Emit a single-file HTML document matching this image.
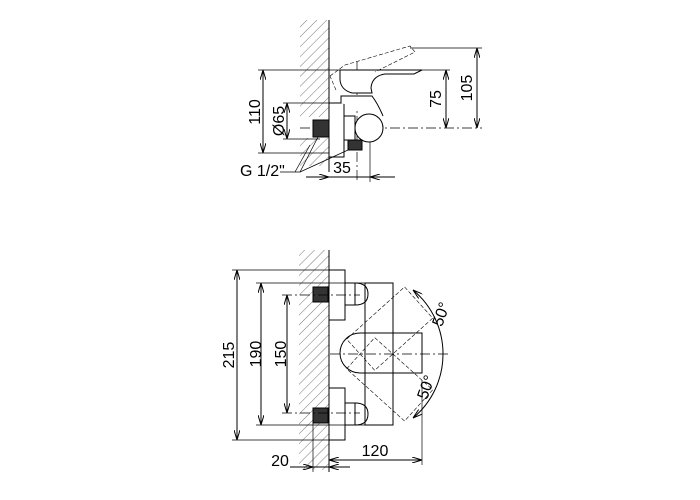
<!DOCTYPE html>
<html><head><meta charset="utf-8"><style>html,body{margin:0;padding:0;background:#fff}svg{display:block}</style></head>
<body>
<svg width="700" height="500" viewBox="0 0 700 500" xmlns="http://www.w3.org/2000/svg" font-family="Liberation Sans, sans-serif">
<defs>
<pattern id="h" width="7" height="7" patternUnits="userSpaceOnUse" patternTransform="rotate(45)">
<line x1="0" y1="0" x2="0" y2="7" stroke="#555" stroke-width="0.8"/></pattern>
<marker id="a" viewBox="0 0 10 6" refX="10" refY="3" markerWidth="10" markerHeight="6" orient="auto-start-reverse" markerUnits="userSpaceOnUse"><path d="M0,0 L10,3 L0,6" fill="none" stroke="#000" stroke-width="1"/></marker>
</defs>
<g stroke="#000" fill="none" stroke-width="1">
<rect x="300" y="20" width="29" height="97" fill="url(#h)" stroke="none"/>
<rect x="300" y="138" width="29" height="28" fill="url(#h)" stroke="none"/>
<line x1="329" y1="20" x2="329" y2="172"/>
<line x1="258" y1="70" x2="450" y2="70" stroke-width="0.7"/>
<line x1="258" y1="153" x2="330" y2="153" stroke-width="0.7"/>
<line x1="410" y1="48" x2="482" y2="48" stroke-width="0.7"/>
<line x1="283" y1="103" x2="330" y2="103" stroke-width="0.7"/>
<line x1="283" y1="139" x2="320" y2="139" stroke-width="0.7"/>
<line x1="300" y1="128" x2="482" y2="128" stroke-width="0.7" stroke-dasharray="10,3,2,3"/>
<line x1="357" y1="62" x2="357" y2="180" stroke-width="0.7" stroke-dasharray="10,3,2,3"/>
<line x1="263" y1="70" x2="263" y2="153" marker-start="url(#a)" marker-end="url(#a)"/>
<line x1="446" y1="70" x2="446" y2="128" marker-start="url(#a)" marker-end="url(#a)"/>
<line x1="477" y1="48" x2="477" y2="128" marker-start="url(#a)" marker-end="url(#a)"/>
<line x1="287" y1="103" x2="287" y2="139" marker-start="url(#a)" marker-end="url(#a)"/>
<line x1="306" y1="177" x2="329" y2="177" marker-end="url(#a)"/>
<line x1="370" y1="177" x2="395" y2="177" marker-start="url(#a)"/>
<line x1="329" y1="177" x2="370" y2="177"/>
<line x1="370" y1="140" x2="370" y2="182" stroke-width="0.7"/>
<rect x="329" y="103" width="15" height="54" fill="#fff"/>
<rect x="344" y="116" width="11" height="24" fill="#fff"/>
<path d="M341,103 L341,96 L372,96 Q378,104 383,116" fill="#fff"/>
<circle cx="369" cy="128" r="14" fill="#fff"/>
<path d="M340,70 L422,70 L414,74 L385,74 Q372,76 371,88 L372,93 L352,93 Q341,90 340,80 Z" fill="#fff"/>
<path d="M330,76 L345,65 L410,46 L415,52 L375,72" stroke-width="0.6" stroke-dasharray="4,2"/>
<path d="M336,90 L330,76" stroke-width="0.6" stroke-dasharray="4,2"/>
<rect x="313" y="120" width="16" height="17" fill="#333"/>
<rect x="348" y="140" width="14" height="10" fill="#333"/>
<path d="M280,172 L300,172 L318,137" stroke-width="0.7"/>
<path d="M300,172 L348,150" stroke-width="0.7"/>
<path d="M295,172 L310,145" stroke-width="0.7"/>

<rect x="299" y="250" width="30" height="220" fill="url(#h)" stroke="none"/>
<line x1="329" y1="250" x2="329" y2="472"/>
<rect x="365" y="283" width="28" height="142"/>
<g stroke-width="0.6" stroke-dasharray="4,2">
<rect x="360" y="334" width="78" height="42" transform="rotate(-42 360 354)"/>
<rect x="360" y="332" width="78" height="42" transform="rotate(42 360 354)"/>
</g>
<rect x="329" y="270" width="16" height="50" fill="#fff"/>
<rect x="329" y="388" width="16" height="52" fill="#fff"/>
<rect x="345" y="283" width="10" height="22" fill="#fff"/>
<rect x="345" y="403" width="10" height="22" fill="#fff"/>
<path d="M355,283 Q368,283 368,294 Q368,305 355,305"/>
<path d="M355,403 Q368,403 368,414 Q368,425 355,425"/>
<rect x="313" y="287" width="15" height="15" fill="#333"/>
<rect x="313" y="408" width="15" height="15" fill="#333"/>
<path d="M422,333 L360,333 A20,20 0 0 0 360,373 L422,373 Z"/>
<line x1="330" y1="354" x2="448" y2="354" stroke-width="0.7" stroke-dasharray="10,3,2,3"/>
<line x1="282" y1="295" x2="360" y2="295" stroke-width="0.7" stroke-dasharray="10,3,2,3"/>
<line x1="282" y1="413" x2="360" y2="413" stroke-width="0.7" stroke-dasharray="10,3,2,3"/>
<line x1="232" y1="270" x2="330" y2="270" stroke-width="0.7"/>
<line x1="232" y1="440" x2="330" y2="440" stroke-width="0.7"/>
<line x1="256" y1="283" x2="365" y2="283" stroke-width="0.7"/>
<line x1="256" y1="425" x2="365" y2="425" stroke-width="0.7"/>
<line x1="237" y1="270" x2="237" y2="440" marker-start="url(#a)" marker-end="url(#a)"/>
<line x1="261" y1="283" x2="261" y2="425" marker-start="url(#a)" marker-end="url(#a)"/>
<line x1="287" y1="295" x2="287" y2="413" marker-start="url(#a)" marker-end="url(#a)"/>
<line x1="329" y1="460" x2="422" y2="460" marker-start="url(#a)" marker-end="url(#a)"/>
<line x1="422" y1="380" x2="422" y2="465" stroke-width="0.7"/>
<line x1="313" y1="423" x2="313" y2="472" stroke-width="0.7"/>
<line x1="290" y1="467" x2="313" y2="467" marker-end="url(#a)"/>
<line x1="313" y1="467" x2="329" y2="467"/>
<line x1="329" y1="467" x2="350" y2="467" marker-start="url(#a)"/>
<path d="M413,290 A83,83 0 0 1 443,354" marker-start="url(#a)"/>
<path d="M443,354 A83,83 0 0 1 413,418" marker-end="url(#a)"/>
</g>
<g fill="#000" font-size="16">
<text x="260" y="112" transform="rotate(-90 260 112)" text-anchor="middle">110</text>
<text x="284" y="121" transform="rotate(-90 284 121)" text-anchor="middle">Ø65</text>
<text x="441" y="99" transform="rotate(-90 441 99)" text-anchor="middle">75</text>
<text x="472" y="88" transform="rotate(-90 472 88)" text-anchor="middle">105</text>
<text x="342" y="173" text-anchor="middle">35</text>
<text x="240" y="176">G 1/2"</text>
<text x="234" y="355" transform="rotate(-90 234 355)" text-anchor="middle">215</text>
<text x="261" y="354" transform="rotate(-90 261 354)" text-anchor="middle">190</text>
<text x="286" y="354" transform="rotate(-90 286 354)" text-anchor="middle">150</text>
<text x="375" y="456" text-anchor="middle">120</text>
<text x="280" y="466" text-anchor="middle">20</text>
<text x="446" y="316" transform="rotate(-70 446 316)" text-anchor="middle">50°</text>
<text x="431" y="389" transform="rotate(-70 431 389)" text-anchor="middle">50°</text>
</g>
</svg>
</body></html>
